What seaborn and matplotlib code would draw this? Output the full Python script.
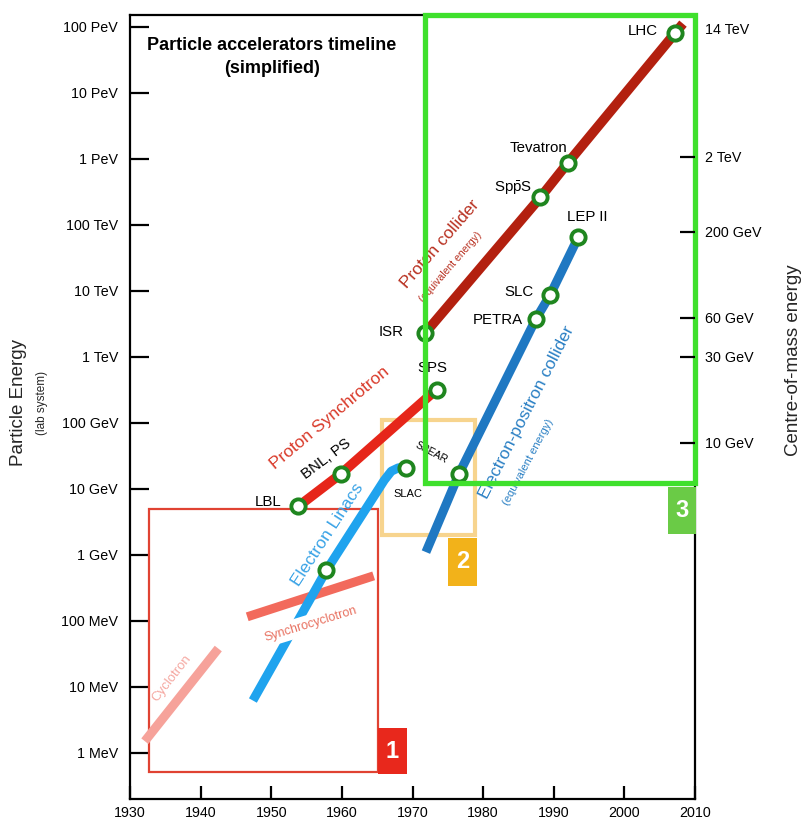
import numpy as np
import pandas as pd
import matplotlib
matplotlib.use("Agg")
import matplotlib.pyplot as plt
from matplotlib.patches import Rectangle
from matplotlib.ticker import NullLocator
import seaborn as sns

# ---------------- data ----------------
year_ticks = [1930, 1940, 1950, 1960, 1970, 1980, 1990, 2000, 2010]
energy_ticks = [1e6, 1e7, 1e8, 1e9, 1e10, 1e11, 1e12, 1e13, 1e14, 1e15, 1e16, 1e17]
energy_tick_labels = ["1 MeV", "10 MeV", "100 MeV", "1 GeV", "10 GeV", "100 GeV",
                      "1 TeV", "10 TeV", "100 TeV", "1 PeV", "10 PeV", "100 PeV"]
cm_tick_labels = ["10 GeV", "30 GeV", "60 GeV", "200 GeV", "2 TeV", "14 TeV"]
cm_tick_lab_equiv = [5.0e10, 1.0e12, 3.9e12, 7.8e13, 1.07e15, 9.6e16]

cyclotron_year = [1932.1, 1942.5]
cyclotron_energy = [1.5e6, 3.8e7]
synchrocyclotron_year = [1946.6, 1964.5]
synchrocyclotron_energy = [1.15e8, 4.8e8]
linac_year = [1947.4, 1957.8, 1966.0, 1967.0, 1968.0, 1969.1]
linac_energy = [6.2e6, 5.8e8, 1.35e10, 1.85e10, 2.08e10, 2.1e10]
psync_year = [1953.8, 1959.9, 1973.4]
psync_energy = [5.4e9, 1.7e10, 3.2e11]
pcoll_year = [1971.8, 1988.1, 1992.0, 2007.2, 2008.3]
pcoll_energy = [2.3e12, 2.6e14, 8.7e14, 8.1e16, 1.12e17]
ee_year = [1971.9, 1976.6, 1987.5, 1989.5, 1993.5]
ee_energy = [1.1e9, 1.7e10, 3.8e12, 8.7e12, 6.6e13]

machine_names = ["LBL", "BNL, PS", "SPS", "ISR", "SppS", "Tevatron", "LHC",
                 "Linac", "SLAC", "SPEAR", "PETRA", "SLC", "LEP II"]
machine_year = [1953.8, 1959.9, 1973.4, 1971.8, 1988.1, 1992.0, 2007.2,
                1957.8, 1969.1, 1976.6, 1987.5, 1989.5, 1993.5]
machine_energy = [5.4e9, 1.7e10, 3.2e11, 2.3e12, 2.6e14, 8.7e14, 8.1e16,
                  5.8e8, 2.1e10, 1.7e10, 3.8e12, 8.7e12, 6.6e13]

era_labels = ["1", "2", "3"]
era_year0 = [1932.7, 1965.7, 1971.8]
era_year1 = [1965.1, 1978.9, 2010.0]
era_energy0 = [5.1e5, 2.0e9, 1.23e10]
era_energy1 = [5.0e9, 1.12e11, 1.5e17]
era_tag_year0 = [1965.1, 1975.0, 2006.2]
era_tag_year1 = [1969.2, 1979.2, 2010.1]
era_tag_energy0 = [4.7e5, 3.4e8, 2.1e9]
era_tag_energy1 = [2.4e6, 1.8e9, 1.07e10]

# ---------------- style ----------------
sns.set_theme(style="ticks")
plt.rcParams["font.family"] = ["Liberation Sans", "DejaVu Sans"]
plt.rcParams["mathtext.fontset"] = "custom"
plt.rcParams["mathtext.rm"] = "Liberation Sans"
plt.rcParams["mathtext.it"] = "Liberation Sans:italic"

YLOG0, YLOG1 = 5.3, 17.18
X0, X1 = 1930, 2010

fig = plt.figure(figsize=(8.06, 8.19), dpi=100)
ax = fig.add_axes([130 / 806, 1 - 799 / 819, 565 / 806, 784 / 819])
ax.set_yscale("log")
ax.set_xlim(X0, X1)
ax.set_ylim(10 ** YLOG0, 10 ** YLOG1)


def P(px, py):
    """figure-pixel position -> data coordinates (for text placement)"""
    return X0 + (px - 130) / (565 / 80), 10 ** (YLOG1 - (py - 15) / 66.0)


# ---------------- lines ----------------
def line(xs, ys, color, lw, z):
    sns.lineplot(x=xs, y=ys, ax=ax, color=color, linewidth=lw, estimator=None,
                 sort=False, zorder=z, solid_capstyle="butt", solid_joinstyle="round")


line(cyclotron_year, cyclotron_energy, "#f6a29a", 6.5, 2)
line(synchrocyclotron_year, synchrocyclotron_energy, "#f26a5c", 6.5, 2)
line(linac_year, linac_energy, "#1fa3ee", 6.5, 3)
line(psync_year, psync_energy, "#e6261a", 7.0, 3)
line(pcoll_year, pcoll_energy, "#b3200f", 7.0, 3)
line(ee_year, ee_energy, "#1f78c2", 6.5, 3)

sns.scatterplot(x=machine_year, y=machine_energy, ax=ax, s=105, color="white",
                edgecolor="#1f861f", linewidth=2.8, zorder=6)

# ---------------- era boxes ----------------
era_colors = ["#e04232", "#f7d48e", "#3fe02c"]
era_lws = [1.6, 3.0, 3.8]
era_z = [1.5, 1.5, 8]
tag_colors = ["#e8281c", "#f2b21a", "#6acb46"]
for i in range(3):
    ax.add_patch(Rectangle((era_year0[i], era_energy0[i]), era_year1[i] - era_year0[i],
                           era_energy1[i] - era_energy0[i], fill=False,
                           edgecolor=era_colors[i], linewidth=era_lws[i],
                           zorder=era_z[i], clip_on=False, joinstyle="miter"))
    ax.add_patch(Rectangle((era_tag_year0[i], era_tag_energy0[i]),
                           era_tag_year1[i] - era_tag_year0[i],
                           era_tag_energy1[i] - era_tag_energy0[i],
                           facecolor=tag_colors[i], edgecolor="none",
                           zorder=9, clip_on=False))
    cx = (era_tag_year0[i] + era_tag_year1[i]) / 2
    cy = np.sqrt(era_tag_energy0[i] * era_tag_energy1[i])
    ax.text(cx, cy, era_labels[i], color="white", fontsize=17, fontweight="bold",
            ha="center", va="center", zorder=10)

# ---------------- annotations ----------------
def T(px, py, s, size=10.8, color="black", rot=0, ha="center", z=5, **kw):
    x, y = P(px, py)
    ax.text(x, y, s, fontsize=size, color=color, rotation=rot, ha=ha, va="center",
            zorder=z, **kw)


T(658, 31, "LHC", ha="right")
T(538, 148, "Tevatron")
T(513, 188, r"Sp$\bar{\mathrm{p}}$S")
T(587, 217, "LEP II")
T(533, 292, "SLC", ha="right")
T(523, 320, "PETRA", ha="right")
T(404, 332, "ISR", ha="right")
T(432, 368, "SPS")
T(326, 459, "BNL, PS", rot=37)
T(282, 502, "LBL", ha="right")
T(408, 494, "SLAC", size=8)
T(431, 453, "SPEAR", size=7.5, rot=-28)

T(330, 418, "Proton Synchrotron", size=12.5, color="#d93a2a", rot=40)
T(328, 535, "Electron Linacs", size=12.5, color="#3aa3e6", rot=57)
T(311, 624, "Synchrocyclotron", size=9, color="#e8705f", rot=17, z=4,
  bbox=dict(boxstyle="square,pad=0.3", facecolor="white", edgecolor="none"))
T(172, 678, "Cyclotron", size=9.5, color="#f5a7a0", rot=52)
T(440, 244, "Proton collider", size=12.5, color="#b83020", rot=49)
T(451, 267, "(equivalent energy)", size=7.5, color="#b83020", rot=49)
T(527, 412, "Electron-positron collider", size=12.5, color="#2b80c4", rot=63)
T(528, 462, "(equivalent energy)", size=8, color="#2b80c4", rot=62)

T(272, 57, "Particle accelerators timeline\n(simplified)", size=13, z=5,
  fontweight="bold", linespacing=1.4)

# ---------------- axes styling ----------------
ax.set_xticks(year_ticks)
ax.set_xticklabels([str(y) for y in year_ticks])
ax.set_yticks(energy_ticks)
ax.set_yticklabels(energy_tick_labels)
ax.yaxis.set_minor_locator(NullLocator())
ax.tick_params(axis="y", which="major", direction="in", length=13.5, width=1.6,
               pad=8.6, labelsize=10.3, left=True, right=False, colors="black")
ax.tick_params(axis="x", which="major", direction="in", length=9.5, width=1.6,
               pad=5, labelsize=10.3, bottom=True, top=False, colors="black")
for sp in ax.spines.values():
    sp.set_visible(True)
    sp.set_color("black")
    sp.set_linewidth(1.6)
ax.set_xlabel("")
ax.set_ylabel("")

ax2 = ax.twinx()
ax2.set_yscale("log")
ax2.set_ylim(10 ** YLOG0, 10 ** YLOG1)
ax2.set_yticks(cm_tick_lab_equiv)
ax2.set_yticklabels(cm_tick_labels)
ax2.yaxis.set_minor_locator(NullLocator())
ax2.tick_params(axis="y", which="major", direction="in", length=11, width=1.6,
                pad=7, labelsize=10.3, right=True, left=False, colors="black")
for sp in ax2.spines.values():
    sp.set_visible(False)
ax2.yaxis.get_major_ticks()[-1].tick2line.set_visible(False)

fig.text(19 / 806, 1 - 402 / 819, "Particle Energy", rotation=90, fontsize=13.5,
         ha="center", va="center")
fig.text(42 / 806, 1 - 403 / 819, "(lab system)", rotation=90, fontsize=8.5,
         ha="center", va="center")
fig.text(793 / 806, 1 - 360 / 819, "Centre-of-mass energy", rotation=90,
         fontsize=13.5, ha="center", va="center")

fig.savefig("out.png", dpi=100, facecolor="white")
